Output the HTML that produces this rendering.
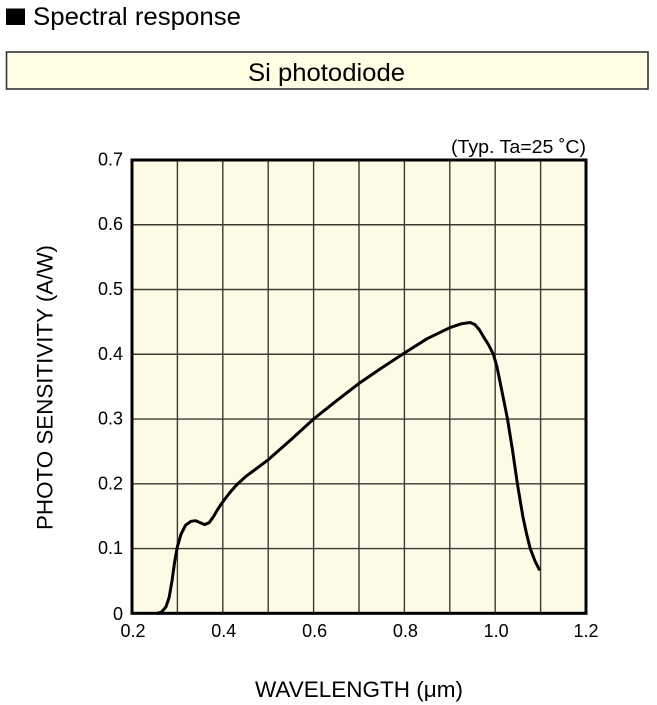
<!DOCTYPE html>
<html>
<head>
<meta charset="utf-8">
<style>
  html, body { margin: 0; padding: 0; background: #ffffff; }
  svg { display: block; }
  text { font-family: "Liberation Sans", Arial, sans-serif; fill: #000; }
</style>
</head>
<body>
<svg width="657" height="705" viewBox="0 0 657 705" xmlns="http://www.w3.org/2000/svg">
  <!-- header -->
  <rect x="6" y="8.5" width="19" height="16.5" fill="#000"/>
  <text x="33" y="25" font-size="25" textLength="208" lengthAdjust="spacingAndGlyphs">Spectral response</text>

  <rect x="6.5" y="52" width="641.5" height="37" fill="#fffde3" stroke="#333" stroke-width="1.6"/>
  <text x="248" y="81" font-size="25" textLength="157" lengthAdjust="spacingAndGlyphs">Si photodiode</text>

  <!-- condition label -->
  <text x="586" y="153" font-size="18" text-anchor="end" textLength="135" lengthAdjust="spacingAndGlyphs">(Typ. Ta=25 ˚C)</text>

  <!-- plot background -->
  <rect x="132" y="160" width="454" height="453.3" fill="#fdfbe6"/>

  <!-- grid -->
  <g stroke="#3a3a32" stroke-width="1.4">
    <line x1="177.4" y1="160" x2="177.4" y2="613.3"/>
    <line x1="222.8" y1="160" x2="222.8" y2="613.3"/>
    <line x1="268.2" y1="160" x2="268.2" y2="613.3"/>
    <line x1="313.6" y1="160" x2="313.6" y2="613.3"/>
    <line x1="359" y1="160" x2="359" y2="613.3"/>
    <line x1="404.4" y1="160" x2="404.4" y2="613.3"/>
    <line x1="449.8" y1="160" x2="449.8" y2="613.3"/>
    <line x1="495.2" y1="160" x2="495.2" y2="613.3"/>
    <line x1="540.6" y1="160" x2="540.6" y2="613.3"/>
    <line x1="132" y1="548.54" x2="586" y2="548.54"/>
    <line x1="132" y1="483.78" x2="586" y2="483.78"/>
    <line x1="132" y1="419.02" x2="586" y2="419.02"/>
    <line x1="132" y1="354.26" x2="586" y2="354.26"/>
    <line x1="132" y1="289.5" x2="586" y2="289.5"/>
    <line x1="132" y1="224.74" x2="586" y2="224.74"/>
  </g>

  <!-- curve -->
  <polyline fill="none" stroke="#000" stroke-width="3" stroke-linejoin="round" stroke-linecap="round"
    points="157.4,613.3 161.5,612.0 166.0,606.8 169.2,597.1 172.0,580.9 174.7,561.5 177.4,546.6 181.0,534.3 185.6,525.2 191.0,521.3 195.6,520.7 200.1,522.6 204.6,524.6 209.2,522.6 213.7,516.2 218.3,508.4 222.8,501.9 229.6,492.9 236.4,485.1 245.5,476.7 268.2,459.8 290.9,439.7 313.6,419.0 336.3,400.9 359.0,383.4 381.7,367.9 404.4,353.0 427.1,338.7 449.8,327.7 461.2,323.8 470.2,322.5 474.8,324.5 479.3,329.6 483.9,337.4 488.4,344.5 493.4,354.3 497.0,367.0 499.7,380.2 503.5,399.0 507.5,419.0 512.5,450.1 517.4,483.8 522.9,516.8 526.5,533.5 530.2,548.5 535.2,561.5 539.2,569.3"/>

  <!-- plot border -->
  <rect x="132" y="160" width="454" height="453.3" fill="none" stroke="#000" stroke-width="3"/>

  <!-- y tick labels -->
  <g font-size="18" text-anchor="end">
    <text x="123" y="165.5">0.7</text>
    <text x="123" y="230.2">0.6</text>
    <text x="123" y="295">0.5</text>
    <text x="123" y="359.8">0.4</text>
    <text x="123" y="424.5">0.3</text>
    <text x="123" y="489.3">0.2</text>
    <text x="123" y="554">0.1</text>
    <text x="123" y="620">0</text>
  </g>

  <!-- x tick labels -->
  <g font-size="18" text-anchor="middle">
    <text x="133" y="637">0.2</text>
    <text x="223.8" y="637">0.4</text>
    <text x="314.6" y="637">0.6</text>
    <text x="405.4" y="637">0.8</text>
    <text x="496.2" y="637">1.0</text>
    <text x="586" y="637">1.2</text>
  </g>

  <!-- axis titles -->
  <text x="359" y="697" font-size="22" text-anchor="middle" textLength="208" lengthAdjust="spacingAndGlyphs">WAVELENGTH (μm)</text>
  <text transform="translate(52.5,387.5) rotate(-90)" x="0" y="0" font-size="22" text-anchor="middle" textLength="285" lengthAdjust="spacingAndGlyphs">PHOTO SENSITIVITY (A/W)</text>
</svg>
</body>
</html>
